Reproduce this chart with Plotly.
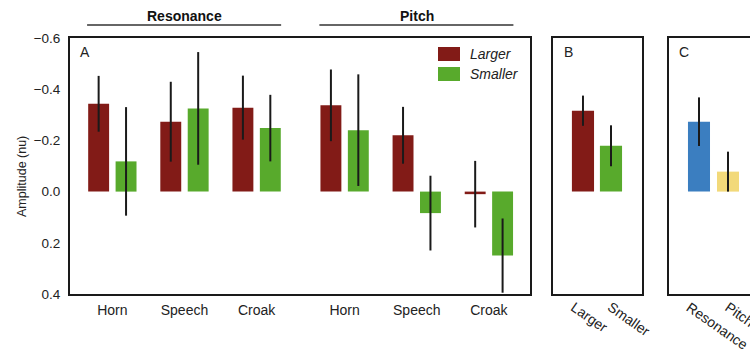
import plotly.graph_objects as go

# ---- data -------------------------------------------------------------
groups = ["Horn", "Speech", "Croak", "Horn", "Speech", "Croak"]
dimension = ["Resonance"] * 3 + ["Pitch"] * 3

larger_mean = [-0.343, -0.273, -0.328, -0.337, -0.220, 0.010]
larger_err = [0.109, 0.156, 0.125, 0.140, 0.111, 0.130]
smaller_mean = [-0.118, -0.325, -0.248, -0.240, 0.084, 0.250]
smaller_err = [0.212, 0.220, 0.130, 0.218, 0.146, 0.145]

size_labels = ["Larger", "Smaller"]
size_mean = [-0.316, -0.179]
size_err = [0.059, 0.080]

dim_labels = ["Resonance", "Pitch"]
dim_mean = [-0.273, -0.078]
dim_err = [0.095, 0.078]

y_ticks = [-0.6, -0.4, -0.2, 0.0, 0.2, 0.4]

# ---- styling ----------------------------------------------------------
RED = "#821b17"
GREEN = "#58aa2c"
BLUE = "#3b7ec0"
YELLOW = "#f2d97a"
INK = "#1a1a1a"
FONT = "Liberation Sans, Arial, sans-serif"
W, H = 750, 350


def px_x(x):
    return x / W


def px_y(y):
    return 1 - y / H


# group positions: small extra gap between the Resonance and Pitch blocks
GAP = 0.22
pos = [i + (GAP if d == "Pitch" else 0) for i, d in enumerate(dimension)]

BW = 0.29       # bar width in panel A
OFF = 0.19      # half distance between paired bar centres

err_style = dict(type="data", thickness=2, width=0, color=INK)

fig = go.Figure()

# panel A
fig.add_trace(go.Bar(
    x=pos, y=larger_mean, width=BW, offset=-OFF - BW / 2,
    marker=dict(color=RED, line=dict(width=0)),
    error_y=dict(array=larger_err, **err_style),
    name="Larger", xaxis="x", yaxis="y", showlegend=False,
))
fig.add_trace(go.Bar(
    x=pos, y=smaller_mean, width=BW, offset=OFF - BW / 2,
    marker=dict(color=GREEN, line=dict(width=0)),
    error_y=dict(array=smaller_err, **err_style),
    name="Smaller", xaxis="x", yaxis="y", showlegend=False,
))

# panel B
fig.add_trace(go.Bar(
    x=size_labels, y=size_mean, width=0.79,
    marker=dict(color=[RED, GREEN], line=dict(width=0)),
    error_y=dict(array=size_err, **err_style),
    xaxis="x2", yaxis="y2", showlegend=False,
))

# panel C
fig.add_trace(go.Bar(
    x=dim_labels, y=dim_mean, width=0.76,
    marker=dict(color=[BLUE, YELLOW], line=dict(width=0)),
    error_y=dict(array=dim_err, **err_style),
    xaxis="x3", yaxis="y3", showlegend=False,
))

y_dom = [px_y(294), px_y(38)]
y_rng = [0.4, -0.6]
tickfont = dict(family=FONT, size=14, color="#222")

frame = dict(showline=True, linecolor=INK, linewidth=2, showgrid=False,
             zeroline=False, ticks="", automargin=False)

fig.update_layout(
    width=W, height=H,
    margin=dict(l=0, r=0, t=0, b=0),
    paper_bgcolor="white", plot_bgcolor="white",
    barmode="overlay",
    font=dict(family=FONT, color="#222"),
    xaxis=dict(domain=[px_x(70), px_x(530)], range=[-0.587, 5.79],
               tickmode="array", tickvals=pos, ticktext=groups,
               tickfont=tickfont, mirror=True, ticklabelstandoff=2, **frame),
    yaxis=dict(domain=y_dom, range=y_rng, tickmode="array", tickvals=y_ticks,
               tickformat=".1f", tickfont=dict(family=FONT, size=13.5, color="#222"),
               mirror=True, ticklabelstandoff=5, **frame),
    xaxis2=dict(domain=[px_x(553), px_x(642)], range=[-1.07, 2.107],
                type="category", showticklabels=False,
                mirror=True, anchor="y2", **frame),
    yaxis2=dict(domain=y_dom, range=y_rng, anchor="x2", showticklabels=False,
                mirror=True, **frame),
    xaxis3=dict(domain=[px_x(669), 1.0], range=[-1.034, 1.759],
                type="category", showticklabels=False,
                mirror=True, anchor="y3", **frame),
    yaxis3=dict(domain=y_dom, range=y_rng, anchor="x3", showticklabels=False,
                mirror=False, **frame),
)

# slanted category labels under panels B and C
for xref, labels in [("x2", size_labels), ("x3", dim_labels)]:
    for lab, shift in zip(labels, [-18, -9]):
        fig.add_annotation(x=lab, xref=xref, y=px_y(296), yref="paper",
                           text=lab, textangle=35, showarrow=False,
                           xanchor="left", yanchor="top", xshift=shift,
                           font=tickfont)

# header lines over the Resonance and Pitch blocks
for block in ["Resonance", "Pitch"]:
    xs = [p for p, d in zip(pos, dimension) if d == block]
    fig.add_shape(type="line", xref="x", yref="paper",
                  x0=min(xs) - 0.35, x1=max(xs) + 0.34,
                  y0=px_y(25), y1=px_y(25),
                  line=dict(color="#333", width=1.5))
    fig.add_annotation(x=(min(xs) + max(xs)) / 2, xref="x",
                       y=px_y(16), yref="paper", text="<b>%s</b>" % block,
                       showarrow=False, font=dict(family=FONT, size=14, color="#111"),
                       xanchor="center", yanchor="middle")

# legend swatches
for i, (lab, col) in enumerate(zip(size_labels, [RED, GREEN])):
    y0 = 47 + i * 20
    fig.add_shape(type="rect", xref="paper", yref="paper",
                  x0=px_x(438), x1=px_x(460), y0=px_y(y0), y1=px_y(y0 + 14),
                  fillcolor=col, line=dict(width=0))
    fig.add_annotation(x=px_x(468), y=px_y(y0 + 7), xref="paper", yref="paper",
                       text="<i>%s</i>" % lab, showarrow=False,
                       font=dict(family=FONT, size=14, color="#222"),
                       xanchor="left", yanchor="middle")

# panel letters
for letter, x in [("A", 78), ("B", 562), ("C", 677)]:
    fig.add_annotation(x=px_x(x), y=px_y(52), xref="paper", yref="paper",
                       text=letter, showarrow=False,
                       font=dict(family=FONT, size=14, color="#222"),
                       xanchor="left", yanchor="middle")

# y-axis title
fig.add_annotation(x=px_x(22), y=px_y(177), xref="paper", yref="paper",
                   text="Amplitude (nu)", textangle=-90, showarrow=False,
                   font=dict(family=FONT, size=12.5, color="#222"),
                   xanchor="center", yanchor="middle")

fig.write_html("out.html")
